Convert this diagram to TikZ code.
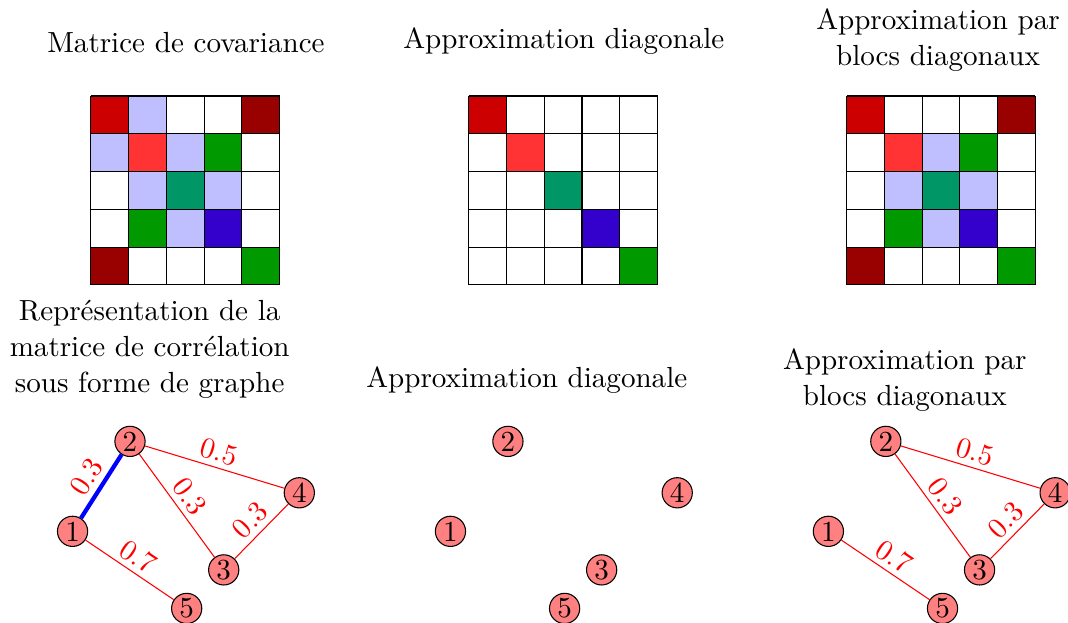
\documentclass[tikz,border=0pt,11pt]{standalone}
\usepackage{amsmath, amssymb}
\usepackage{tikz}

\definecolor{rouge}{RGB}{204,0,0}
\definecolor{bordeaux}{RGB}{153,0,0}
\definecolor{rougeclair}{RGB}{255,51,51}
\definecolor{bleuclair}{RGB}{191,191,255}
\definecolor{vert}{RGB}{0,153,0}
\definecolor{sarcelle}{RGB}{0,150,102}
\definecolor{violet}{RGB}{51,0,204}

\begin{document}
\begin{tikzpicture}[sommet/.style={circle, draw, fill=red!50, inner sep=0pt, minimum size=0.4cm},
    poids/.style={red, sloped, above, inner sep=2pt},
    titre/.style={align=center}]
    \useasboundingbox (0,0) rectangle (14.13,8.24);

    % les titres
    \node[titre] (t1) at (2.46,7.68) {Matrice de covariance};
    \node[titre] (t2) at (7.46,7.70) {Approximation diagonale};
    \node[titre] (t3) at (12.41,7.71) {Approximation par\\blocs diagonaux};
    \node[titre] (t4) at (1.98,3.62) {Repr\'esentation de la\\matrice de corr\'elation\\sous forme de graphe};
    \node[titre] (t5) at (6.97,3.21) {Approximation diagonale};
    \node[titre] (t6) at (11.97,3.21) {Approximation par\\blocs diagonaux};

    % matrice de covariance
    \begin{scope}[shift={(1.2,4.47)}]
    \fill[rouge] (0,2) rectangle ++(0.5,0.5);
    \fill[bleuclair] (0.5,2) rectangle ++(0.5,0.5);
    \fill[bordeaux] (2,2) rectangle ++(0.5,0.5);
    \fill[bleuclair] (0,1.5) rectangle ++(0.5,0.5);
    \fill[rougeclair] (0.5,1.5) rectangle ++(0.5,0.5);
    \fill[bleuclair] (1,1.5) rectangle ++(0.5,0.5);
    \fill[vert] (1.5,1.5) rectangle ++(0.5,0.5);
    \fill[bleuclair] (0.5,1) rectangle ++(0.5,0.5);
    \fill[sarcelle] (1,1) rectangle ++(0.5,0.5);
    \fill[bleuclair] (1.5,1) rectangle ++(0.5,0.5);
    \fill[vert] (0.5,0.5) rectangle ++(0.5,0.5);
    \fill[bleuclair] (1,0.5) rectangle ++(0.5,0.5);
    \fill[violet] (1.5,0.5) rectangle ++(0.5,0.5);
    \fill[bordeaux] (0,0) rectangle ++(0.5,0.5);
    \fill[vert] (2,0) rectangle ++(0.5,0.5);
    \draw[step=0.5] (0,0) grid (2.5,2.5);
    \end{scope}

    % approximation diagonale
    \begin{scope}[shift={(6.2,4.47)}]
    \fill[rouge] (0,2) rectangle ++(0.5,0.5);
    \fill[rougeclair] (0.5,1.5) rectangle ++(0.5,0.5);
    \fill[sarcelle] (1,1) rectangle ++(0.5,0.5);
    \fill[violet] (1.5,0.5) rectangle ++(0.5,0.5);
    \fill[vert] (2,0) rectangle ++(0.5,0.5);
    \draw[step=0.5] (0,0) grid (2.5,2.5);
    \end{scope}

    % approximation par blocs
    \begin{scope}[shift={(11.2,4.47)}]
    \fill[rouge] (0,2) rectangle ++(0.5,0.5);
    \fill[bordeaux] (2,2) rectangle ++(0.5,0.5);
    \fill[rougeclair] (0.5,1.5) rectangle ++(0.5,0.5);
    \fill[bleuclair] (1,1.5) rectangle ++(0.5,0.5);
    \fill[vert] (1.5,1.5) rectangle ++(0.5,0.5);
    \fill[bleuclair] (0.5,1) rectangle ++(0.5,0.5);
    \fill[sarcelle] (1,1) rectangle ++(0.5,0.5);
    \fill[bleuclair] (1.5,1) rectangle ++(0.5,0.5);
    \fill[vert] (0.5,0.5) rectangle ++(0.5,0.5);
    \fill[bleuclair] (1,0.5) rectangle ++(0.5,0.5);
    \fill[violet] (1.5,0.5) rectangle ++(0.5,0.5);
    \fill[bordeaux] (0,0) rectangle ++(0.5,0.5);
    \fill[vert] (2,0) rectangle ++(0.5,0.5);
    \draw[step=0.5] (0,0) grid (2.5,2.5);
    \end{scope}

    % graphe complet
    \node[sommet] (a1) at (0.96,1.21) {1};
    \node[sommet] (a2) at (1.72,2.40) {2};
    \node[sommet] (a3) at (2.96,0.70) {3};
    \node[sommet] (a4) at (3.96,1.72) {4};
    \node[sommet] (a5) at (2.47,0.19) {5};

    \draw[blue, line width=1.6pt] (a1) -- node[poids] (pa12) {0.3} (a2);
    \draw[red] (a2) -- node[poids] (pa24) {0.5} (a4);
    \draw[red] (a2) -- node[poids] (pa23) {0.3} (a3);
    \draw[red] (a3) -- node[poids] (pa34) {0.3} (a4);
    \draw[red] (a1) -- node[poids] (pa15) {0.7} (a5);

    % graphe diagonal
    \node[sommet] (b1) at (5.96,1.21) {1};
    \node[sommet] (b2) at (6.72,2.40) {2};
    \node[sommet] (b3) at (7.96,0.70) {3};
    \node[sommet] (b4) at (8.96,1.72) {4};
    \node[sommet] (b5) at (7.47,0.19) {5};

    % graphe par blocs
    \node[sommet] (c1) at (10.96,1.21) {1};
    \node[sommet] (c2) at (11.72,2.40) {2};
    \node[sommet] (c3) at (12.96,0.70) {3};
    \node[sommet] (c4) at (13.96,1.72) {4};
    \node[sommet] (c5) at (12.47,0.19) {5};

    \draw[red] (c2) -- node[poids] (pc24) {0.5} (c4);
    \draw[red] (c2) -- node[poids] (pc23) {0.3} (c3);
    \draw[red] (c3) -- node[poids] (pc34) {0.3} (c4);
    \draw[red] (c1) -- node[poids] (pc15) {0.7} (c5);
\end{tikzpicture}
\end{document}
